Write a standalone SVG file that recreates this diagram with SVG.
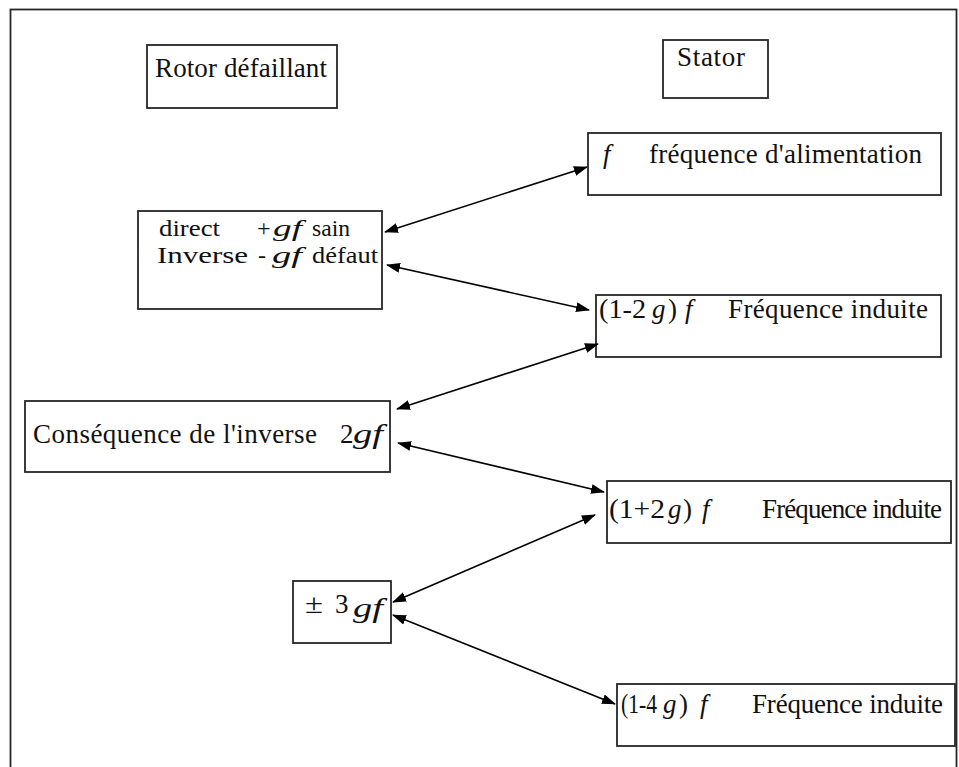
<svg xmlns="http://www.w3.org/2000/svg" width="959" height="767" viewBox="0 0 959 767">
<defs>
<marker id="ah" viewBox="0 0 14 10" refX="13" refY="5" markerWidth="14" markerHeight="10" markerUnits="userSpaceOnUse" orient="auto-start-reverse">
<path d="M0,0 L14,5 L0,10 z" fill="#000"/>
</marker>
<style>
.box{fill:#fff;stroke:#262626;stroke-width:1.8}
.t{font-family:"Liberation Serif","Times New Roman",serif;font-size:27px;fill:#111}
.s{font-size:24px}
.i{font-style:italic}
.c{stroke:#000;stroke-width:1.6;fill:none;marker-start:url(#ah);marker-end:url(#ah)}
</style>
</defs>
<rect x="0" y="0" width="959" height="767" fill="#fff"/>
<rect x="10.5" y="9.5" width="946" height="780" fill="none" stroke="#262626" stroke-width="1.8"/>

<g id="rotor">
<rect class="box" x="147" y="45" width="190" height="63"/>
<text class="t" x="155" y="77" textLength="172" lengthAdjust="spacing">Rotor défaillant</text>
</g>
<g id="stator">
<rect class="box" x="663" y="40" width="105" height="58"/>
<text class="t" x="677" y="66" textLength="68" lengthAdjust="spacing">Stator</text>
</g>
<g id="alim">
<rect class="box" x="588" y="133" width="353" height="62"/>
<text class="t i" x="603" y="163">f</text>
<text class="t" x="649" y="163" textLength="273" lengthAdjust="spacing">fréquence d'alimentation</text>
</g>
<g id="direct">
<rect class="box" x="138" y="211" width="244" height="98"/>
<text class="t s" x="159" y="236" textLength="61" lengthAdjust="spacingAndGlyphs">direct</text>
<text class="t s" x="257" y="236">+</text>
<text class="t s i" x="273" y="236" textLength="29" lengthAdjust="spacingAndGlyphs">gf</text>
<text class="t s" x="312" y="236" textLength="38" lengthAdjust="spacingAndGlyphs">sain</text>
<text class="t s" x="157" y="263" textLength="91" lengthAdjust="spacingAndGlyphs">Inverse</text>
<text class="t s" x="258" y="263">-</text>
<text class="t s i" x="272" y="263" textLength="30" lengthAdjust="spacingAndGlyphs">gf</text>
<text class="t s" x="312" y="263" textLength="66" lengthAdjust="spacingAndGlyphs">défaut</text>
</g>
<g id="f12m">
<rect class="box" x="596" y="295" width="345" height="62"/>
<text class="t" x="599" y="318" textLength="47" lengthAdjust="spacingAndGlyphs">(1-2</text>
<text class="t i" x="652" y="318">g</text>
<text class="t" x="668" y="318">)</text>
<text class="t i" x="685" y="318">f</text>
<text class="t" x="728" y="318" textLength="200" lengthAdjust="spacing">Fréquence induite</text>
</g>
<g id="consequence">
<rect class="box" x="25" y="401" width="365" height="71"/>
<text class="t" x="33" y="443" textLength="284" lengthAdjust="spacing">Conséquence de l'inverse</text>
<text class="t" x="340" y="443">2</text>
<text class="t i" x="353" y="443" textLength="30" lengthAdjust="spacingAndGlyphs">gf</text>
</g>
<g id="f12p">
<rect class="box" x="607" y="481" width="344" height="62"/>
<text class="t" x="609" y="518" textLength="56" lengthAdjust="spacingAndGlyphs">(1+2</text>
<text class="t i" x="668" y="518">g</text>
<text class="t" x="683" y="518">)</text>
<text class="t i" x="702" y="518">f</text>
<text class="t" x="762" y="518" textLength="180" lengthAdjust="spacing">Fréquence induite</text>
</g>
<g id="pm3">
<rect class="box" x="293" y="581" width="98" height="62"/>
<text class="t" x="305" y="613" textLength="18" lengthAdjust="spacingAndGlyphs">±</text>
<text class="t" x="335" y="613">3</text>
<text class="t i" x="353" y="617" textLength="30" lengthAdjust="spacingAndGlyphs">gf</text>
</g>
<g id="f14m">
<rect class="box" x="617" y="684" width="338" height="62"/>
<text class="t" transform="translate(621,713) scale(0.8,1)" x="0" y="0">(1-4</text>
<text class="t i" x="663" y="713">g</text>
<text class="t" x="679" y="713">)</text>
<text class="t i" x="700" y="713">f</text>
<text class="t" x="752" y="713" textLength="191" lengthAdjust="spacing">Fréquence induite</text>
</g>

<g id="connectors">
<line class="c" x1="385" y1="232" x2="587" y2="167"/>
<line class="c" x1="387" y1="265" x2="589" y2="310"/>
<line class="c" x1="397" y1="409" x2="598" y2="344"/>
<line class="c" x1="398" y1="443" x2="604" y2="492"/>
<line class="c" x1="393" y1="602" x2="595" y2="515"/>
<line class="c" x1="393" y1="615" x2="615" y2="704"/>
</g>
</svg>
